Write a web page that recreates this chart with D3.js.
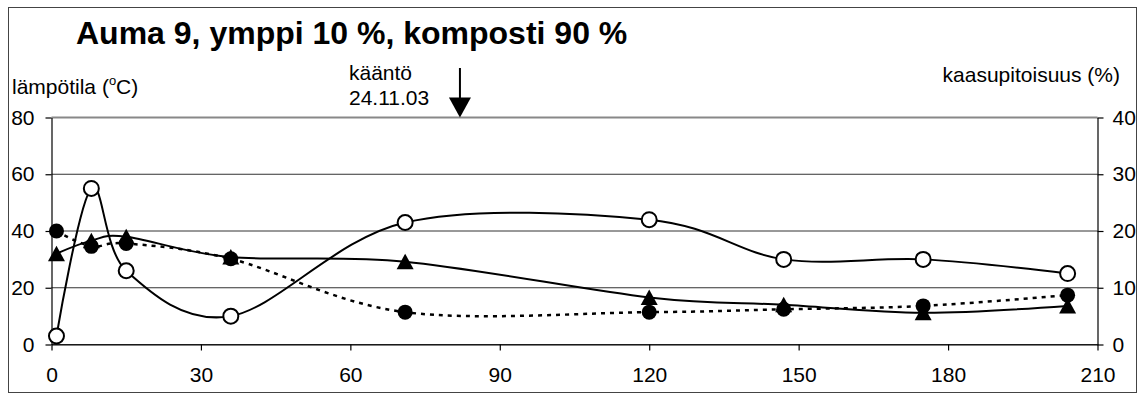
<!DOCTYPE html>
<html>
<head>
<meta charset="utf-8">
<script src="https://cdn.jsdelivr.net/npm/d3@7"></script>
<style>
  body { margin: 0; background: #fff; }
  text { font-family: "Liberation Sans", Arial, sans-serif; fill: #000; }
</style>
</head>
<body>
<div id="chart"></div>
<script>
const width = 1139;
const height = 394;

// days since start
const days = [1, 8, 15, 36, 71, 120, 147, 175, 204];
// temperature (°C), left axis, open circles
const temperature = [3, 55, 26, 10, 43, 44, 30, 30, 25];
// gas contents (%), right axis
const gasDashed = [20, 17.3, 17.8, 15.1, 5.7, 5.7, 6.2, 6.8, 8.7];   // filled circles, dotted line
const gasSolid = [16, 18.3, 19, 15.4, 14.6, 8.3, 7, 5.6, 6.8];      // triangles
const xTicks = [0, 30, 60, 90, 120, 150, 180, 210];
const leftTicks = [0, 20, 40, 60, 80];
const rightTicks = [0, 10, 20, 30, 40];
const turnDay = 82;

const plot = { left: 51.5, right: 1097.5, top: 117.5, bottom: 344.5 };

const svg = d3.select("#chart").append("svg")
    .attr("width", width)
    .attr("height", height);

// outer frame
svg.append("rect")
    .attr("x", 8.5).attr("y", 7.5)
    .attr("width", 1128).attr("height", 385)
    .attr("fill", "#fff")
    .attr("stroke", "#444")
    .attr("stroke-width", 1);

const x = d3.scaleLinear().domain([0, 210]).range([plot.left, plot.right]);
const yL = d3.scaleLinear().domain([0, 80]).range([plot.bottom, plot.top]);
const yR = d3.scaleLinear().domain([0, 40]).range([plot.bottom, plot.top]);

// gridlines
svg.append("g").selectAll("line")
    .data(leftTicks)
    .join("line")
    .attr("x1", plot.left).attr("x2", plot.right)
    .attr("y1", d => yL(d)).attr("y2", d => yL(d))
    .attr("stroke", d => d === 80 ? "#888" : "#333")
    .attr("stroke-width", d => d === 80 ? 2 : 1);

// axes
const axL = svg.append("g")
    .attr("transform", `translate(${plot.left},0)`)
    .call(d3.axisLeft(yL).tickValues(leftTicks).tickSize(6).tickSizeOuter(0).tickPadding(11));
const axR = svg.append("g")
    .attr("transform", `translate(${plot.right},0)`)
    .call(d3.axisRight(yR).tickValues(rightTicks).tickSize(6).tickSizeOuter(0).tickPadding(9));
const axB = svg.append("g")
    .attr("transform", `translate(0,${plot.bottom})`)
    .call(d3.axisBottom(x).tickValues(xTicks).tickSize(6).tickSizeOuter(0).tickPadding(17));

[axL, axR, axB].forEach(a => {
    a.selectAll("text").style("font-size", "21px").attr("fill", "#000");
    a.selectAll("line, path").attr("stroke", "#000").attr("stroke-width", 1.2);
});

// series lines
const curve = d3.curveCardinal.tension(0);
const lineT = d3.line().x((d, i) => x(days[i])).y(d => yL(d)).curve(curve);
const lineR = d3.line().x((d, i) => x(days[i])).y(d => yR(d)).curve(curve);

svg.append("path").attr("d", lineT(temperature))
    .attr("fill", "none").attr("stroke", "#000").attr("stroke-width", 2);
svg.append("path").attr("d", lineR(gasSolid))
    .attr("fill", "none").attr("stroke", "#000").attr("stroke-width", 2);
svg.append("path").attr("d", lineR(gasDashed))
    .attr("fill", "none").attr("stroke", "#000").attr("stroke-width", 2.5)
    .attr("stroke-dasharray", "4,5");

// markers
svg.append("g").selectAll("path")
    .data(gasSolid)
    .join("path")
    .attr("d", "M0,-8L8.5,7.5L-8.5,7.5Z")
    .attr("transform", (d, i) => `translate(${x(days[i])},${yR(d)})`)
    .attr("fill", "#000");

svg.append("g").selectAll("circle")
    .data(gasDashed)
    .join("circle")
    .attr("cx", (d, i) => x(days[i]))
    .attr("cy", d => yR(d))
    .attr("r", 7.5)
    .attr("fill", "#000");

svg.append("g").selectAll("circle")
    .data(temperature)
    .join("circle")
    .attr("cx", (d, i) => x(days[i]))
    .attr("cy", d => yL(d))
    .attr("r", 7.5)
    .attr("fill", "#fff")
    .attr("stroke", "#000")
    .attr("stroke-width", 2);

// titles
svg.append("text")
    .attr("x", 76).attr("y", 44)
    .style("font-size", "32px").style("font-weight", "bold")
    .text("Auma 9, ymppi 10 %, komposti 90 %");

const lt = svg.append("text")
    .attr("x", 12).attr("y", 94)
    .style("font-size", "21px");
lt.append("tspan").text("lämpötila (");
lt.append("tspan").attr("dy", -9).style("font-size", "13px").text("o");
lt.append("tspan").attr("dy", 9).text("C)");

svg.append("text")
    .attr("x", 1120).attr("y", 82)
    .attr("text-anchor", "end")
    .style("font-size", "21px")
    .text("kaasupitoisuus (%)");

// turning annotation
svg.append("text").attr("x", 349).attr("y", 80).style("font-size", "21px").text("kääntö");
svg.append("text").attr("x", 349).attr("y", 105).style("font-size", "21px").text("24.11.03");

const ax = x(turnDay);
const tip = yL(80);
svg.append("line")
    .attr("x1", ax).attr("x2", ax)
    .attr("y1", 68).attr("y2", tip - 18)
    .attr("stroke", "#000").attr("stroke-width", 2);
svg.append("path")
    .attr("d", `M${ax - 11},${tip - 20}L${ax + 11},${tip - 20}L${ax},${tip}Z`)
    .attr("fill", "#000");
</script>
</body>
</html>
